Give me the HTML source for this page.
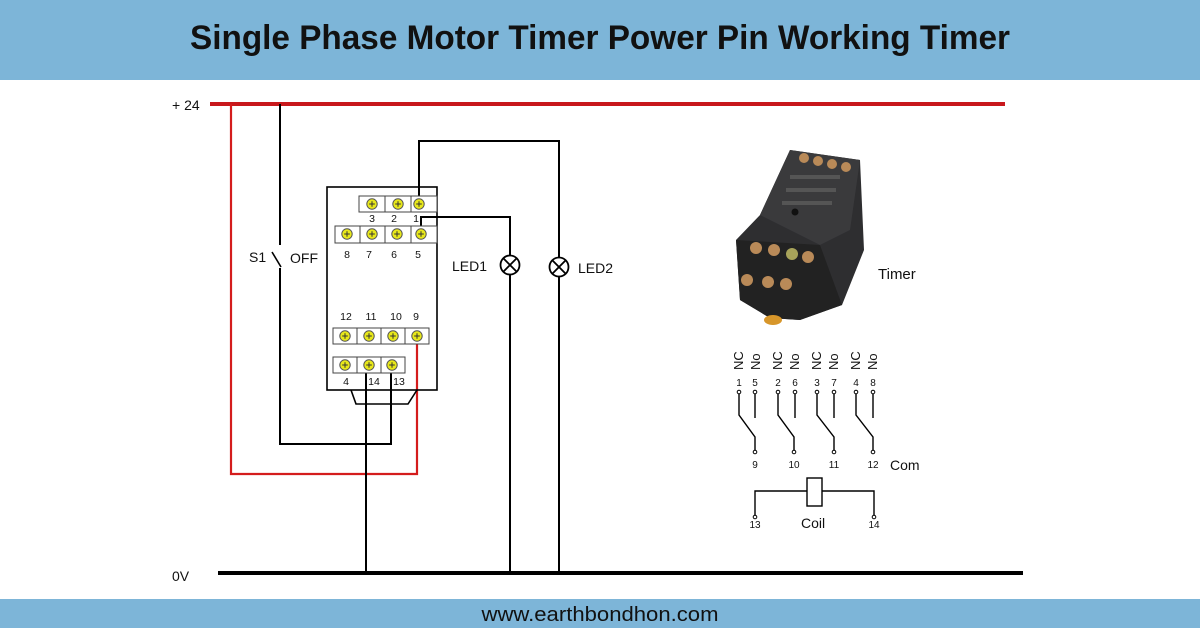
<!DOCTYPE html>
<html><head><meta charset="utf-8"><style>
html,body{margin:0;padding:0;background:#fff;}
svg{display:block;}
text{font-family:"Liberation Sans",sans-serif;fill:#111;}
</style></head><body>
<svg width="1200" height="628" viewBox="0 0 1200 628" xmlns="http://www.w3.org/2000/svg">
<defs>
<g id="t"><circle cx="0" cy="0" r="5.2" fill="#e8e81a" stroke="#555" stroke-width="1"/><path d="M-2.8 0H2.8M0 -2.8V2.8" stroke="#333" stroke-width="1"/></g>
</defs>
<rect x="0" y="0" width="1200" height="80" fill="#7db5d8"/>
<text x="600" y="49" text-anchor="middle" font-size="34" font-weight="bold" textLength="820" lengthAdjust="spacingAndGlyphs">Single Phase Motor Timer Power Pin Working Timer</text>
<rect x="0" y="599" width="1200" height="29" fill="#7db5d8"/>
<text x="600" y="621" text-anchor="middle" font-size="20" textLength="237" lengthAdjust="spacingAndGlyphs">www.earthbondhon.com</text>

<line x1="210" y1="104" x2="1005" y2="104" stroke="#c8181c" stroke-width="4"/>
<text x="172" y="110" font-size="14">+ 24</text>
<line x1="218" y1="573" x2="1023" y2="573" stroke="#000" stroke-width="4"/>
<text x="172" y="581" font-size="14">0V</text>

<polyline points="231,104 231,474 417,474 417,336" fill="none" stroke="#d41c1c" stroke-width="2.2"/>
<polyline points="280,104 280,245" fill="none" stroke="#000" stroke-width="2"/>
<line x1="272" y1="252" x2="281" y2="267" stroke="#000" stroke-width="1.6"/>
<polyline points="280,268 280,444 391,444 391,366" fill="none" stroke="#000" stroke-width="2"/>
<text x="249" y="262" font-size="14">S1</text>
<text x="290" y="263" font-size="14">OFF</text>
<line x1="366" y1="366" x2="366" y2="573" stroke="#000" stroke-width="2"/>
<polyline points="419,204 419,141 559,141 559,257" fill="none" stroke="#000" stroke-width="2"/>
<line x1="559" y1="277" x2="559" y2="573" stroke="#000" stroke-width="2"/>
<polyline points="421,234 421,217 510,217 510,255" fill="none" stroke="#000" stroke-width="2"/>
<line x1="510" y1="275" x2="510" y2="573" stroke="#000" stroke-width="2"/>
<g stroke="#000" stroke-width="1.8" fill="#fff">
<circle cx="510" cy="265" r="9.5"/><path d="M503.3 258.3L516.7 271.7M516.7 258.3L503.3 271.7"/>
<circle cx="559" cy="267" r="9.5"/><path d="M552.3 260.3L565.7 273.7M565.7 260.3L552.3 273.7"/>
</g>
<text x="452" y="271" font-size="14">LED1</text>
<text x="578" y="273" font-size="14">LED2</text>

<rect x="327" y="187" width="110" height="203" fill="none" stroke="#000" stroke-width="1.6"/>
<polyline points="351,390 356,404 408,404 417,390" fill="none" stroke="#000" stroke-width="1.6"/>
<g fill="#fff" stroke="#444" stroke-width="1">
<rect x="359" y="196" width="26" height="16"/><rect x="385" y="196" width="26" height="16"/><rect x="411" y="196" width="26" height="16"/>
<rect x="335" y="226" width="25" height="17"/><rect x="360" y="226" width="25" height="17"/><rect x="385" y="226" width="26" height="17"/><rect x="411" y="226" width="26" height="17"/>
<rect x="333" y="328" width="24" height="16"/><rect x="357" y="328" width="24" height="16"/><rect x="381" y="328" width="24" height="16"/><rect x="405" y="328" width="24" height="16"/>
<rect x="333" y="357" width="24" height="16"/><rect x="357" y="357" width="24" height="16"/><rect x="381" y="357" width="24" height="16"/>
</g>
<use href="#t" x="372" y="204"/><use href="#t" x="398" y="204"/><use href="#t" x="419" y="204"/>
<use href="#t" x="347" y="234"/><use href="#t" x="372" y="234"/><use href="#t" x="397" y="234"/><use href="#t" x="421" y="234"/>
<use href="#t" x="345" y="336"/><use href="#t" x="369" y="336"/><use href="#t" x="393" y="336"/><use href="#t" x="417" y="336"/>
<use href="#t" x="345" y="365"/><use href="#t" x="369" y="365"/><use href="#t" x="392" y="365"/>
<g font-size="10.5" text-anchor="middle">
<text x="372" y="222">3</text><text x="394" y="222">2</text><text x="416" y="222">1</text>
<text x="347" y="258">8</text><text x="369" y="258">7</text><text x="394" y="258">6</text><text x="418" y="258">5</text>
<text x="346" y="320">12</text><text x="371" y="320">11</text><text x="396" y="320">10</text><text x="416" y="320">9</text>
<text x="346" y="385">4</text><text x="374" y="385">14</text><text x="399" y="385">13</text>
</g>

<g>
<polygon points="790,150 860,160 864,250 842,305 800,320 770,318 740,300 736,240 760,215" fill="#2e2e30"/>
<polygon points="760,215 790,150 860,160 850,230 820,245" fill="#3a3a3c"/>
<polygon points="736,240 820,245 842,305 800,320 770,318 740,300" fill="#222"/>
<g fill="#b98a58"><circle cx="804" cy="158" r="5"/><circle cx="818" cy="161" r="5"/><circle cx="832" cy="164" r="5"/><circle cx="846" cy="167" r="5"/>
<circle cx="756" cy="248" r="6"/><circle cx="774" cy="250" r="6"/><circle cx="808" cy="257" r="6"/>
<circle cx="747" cy="280" r="6"/><circle cx="768" cy="282" r="6"/><circle cx="786" cy="284" r="6"/></g>
<circle cx="792" cy="254" r="6" fill="#a7a35a"/>
<ellipse cx="773" cy="320" rx="9" ry="5" fill="#d7962a"/>
<g fill="#555"><rect x="790" y="175" width="50" height="4"/><rect x="786" y="188" width="50" height="4"/><rect x="782" y="201" width="50" height="4"/></g>
<circle cx="795" cy="212" r="3.5" fill="#111"/>
</g>
<text x="878" y="279" font-size="15">Timer</text>

<g font-size="13">
<text transform="translate(743,370) rotate(-90)">NC</text>
<text transform="translate(760,370) rotate(-90)">No</text>
<text transform="translate(782,370) rotate(-90)">NC</text>
<text transform="translate(799,370) rotate(-90)">No</text>
<text transform="translate(821,370) rotate(-90)">NC</text>
<text transform="translate(838,370) rotate(-90)">No</text>
<text transform="translate(860,370) rotate(-90)">NC</text>
<text transform="translate(877,370) rotate(-90)">No</text>
</g>
<g font-size="10" text-anchor="middle">
<text x="739" y="386">1</text><text x="755" y="386">5</text><text x="778" y="386">2</text><text x="795" y="386">6</text>
<text x="817" y="386">3</text><text x="834" y="386">7</text><text x="856" y="386">4</text><text x="873" y="386">8</text>
<text x="755" y="468">9</text><text x="794" y="468">10</text><text x="834" y="468">11</text><text x="873" y="468">12</text>
<text x="755" y="528">13</text><text x="874" y="528">14</text>
</g>
<text x="890" y="470" font-size="14">Com</text>
<text x="801" y="528" font-size="14">Coil</text>
<g stroke="#000" stroke-width="1.4" fill="none">
<polyline points="739,394 739,415 755,437 755,450"/><line x1="755" y1="394" x2="755" y2="418"/>
<polyline points="778,394 778,415 794,437 794,450"/><line x1="795" y1="394" x2="795" y2="418"/>
<polyline points="817,394 817,415 834,437 834,450"/><line x1="834" y1="394" x2="834" y2="418"/>
<polyline points="856,394 856,415 873,437 873,450"/><line x1="873" y1="394" x2="873" y2="418"/>
<polyline points="755,515 755,491 807,491"/><polyline points="822,491 874,491 874,515"/>
<rect x="807" y="478" width="15" height="28"/>
</g>
<g fill="#fff" stroke="#000" stroke-width="1">
<circle cx="739" cy="392" r="1.8"/><circle cx="755" cy="392" r="1.8"/><circle cx="778" cy="392" r="1.8"/><circle cx="795" cy="392" r="1.8"/>
<circle cx="817" cy="392" r="1.8"/><circle cx="834" cy="392" r="1.8"/><circle cx="856" cy="392" r="1.8"/><circle cx="873" cy="392" r="1.8"/>
<circle cx="755" cy="452" r="1.8"/><circle cx="794" cy="452" r="1.8"/><circle cx="834" cy="452" r="1.8"/><circle cx="873" cy="452" r="1.8"/>
<circle cx="755" cy="517" r="1.8"/><circle cx="874" cy="517" r="1.8"/>
</g>
</svg>
</body></html>
